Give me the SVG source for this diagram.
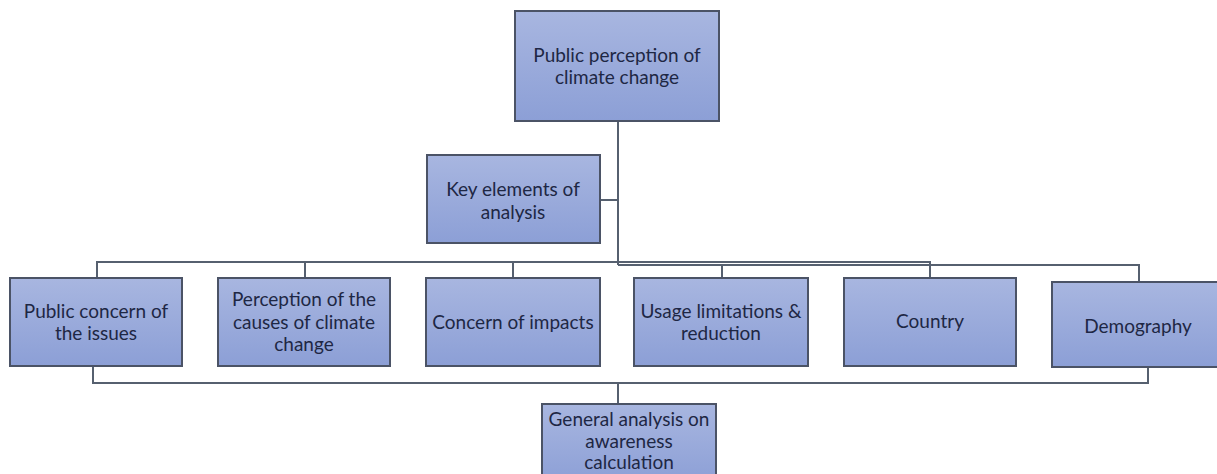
<svg xmlns="http://www.w3.org/2000/svg" width="1217" height="474" viewBox="0 0 1217 474">
<style>
.box{fill:url(#g);stroke:#4b5366;stroke-width:2}
.t{font-family:Lato,"Open Sans","Liberation Sans",sans-serif;font-size:19px;fill:#1e2744;text-anchor:middle}
.c{fill:none;stroke:#56606f;stroke-width:2}
</style>
<defs>
<linearGradient id="g" x1="0" y1="0" x2="0" y2="1">
<stop offset="0" stop-color="#a8b6e0"/>
<stop offset="1" stop-color="#8c9fd6"/>
</linearGradient>
</defs>
<rect width="1217" height="474" fill="#ffffff"/>
<g id="connectors">
<path class="c" d="M618 121 V265"/>
<path class="c" d="M600 200 H618"/>
<path class="c" d="M97 278 V262 H930 V278"/>
<path class="c" d="M305 262 V278"/>
<path class="c" d="M513 262 V278"/>
<path class="c" d="M722 265 V278"/>
<path class="c" d="M618 265 H1139 V282"/>
<path class="c" d="M93 366 V383 H1148 V367"/>
<path class="c" d="M618 383 V404"/>
</g>
<g id="top"><rect class="box" x="515" y="11" width="204" height="110"/>
<text class="t" x="617" y="62">Public perception of</text><text class="t" x="617" y="84">climate change</text></g>
<g id="key"><rect class="box" x="427" y="155" width="173" height="88"/>
<text class="t" x="513" y="196">Key elements of</text><text class="t" x="513" y="219">analysis</text></g>
<g id="n1"><rect class="box" x="10" y="278" width="172" height="88"/>
<text class="t" x="96" y="318">Public concern of</text><text class="t" x="96" y="340">the issues</text></g>
<g id="n2"><rect class="box" x="218" y="278" width="172" height="88"/>
<text class="t" x="304" y="306">Perception of the</text><text class="t" x="304" y="329">causes of climate</text><text class="t" x="304" y="351">change</text></g>
<g id="n3"><rect class="box" x="426" y="278" width="174" height="88"/>
<text class="t" x="513" y="329">Concern of impacts</text></g>
<g id="n4"><rect class="box" x="634" y="278" width="174" height="88"/>
<text class="t" x="721" y="318">Usage limitations &amp;</text><text class="t" x="721" y="340">reduction</text></g>
<g id="n5"><rect class="box" x="844" y="278" width="172" height="88"/>
<text class="t" x="930" y="328">Country</text></g>
<g id="n6"><rect class="box" x="1052" y="282" width="170" height="85"/>
<text class="t" x="1138" y="333">Demography</text></g>
<g id="general"><rect class="box" x="542" y="404" width="174" height="80"/>
<text class="t" x="629" y="426">General analysis on</text><text class="t" x="629" y="448">awareness</text><text class="t" x="629" y="469">calculation</text></g>
</svg>
